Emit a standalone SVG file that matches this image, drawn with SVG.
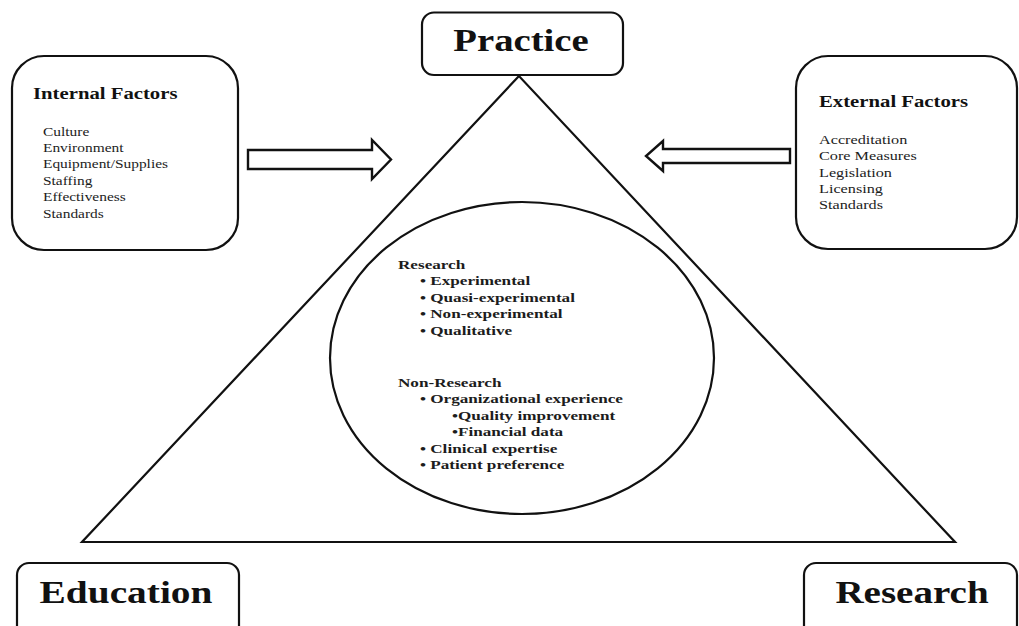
<svg xmlns="http://www.w3.org/2000/svg" width="1019" height="626" viewBox="0 0 1019 626">
<style>
  .box{fill:#fff;stroke:#111;stroke-width:2.2}
  .line{fill:none;stroke:#111;stroke-width:2.2}
  .arrow{fill:#fff;stroke:#111;stroke-width:2.4;stroke-linejoin:miter}
  text{font-family:"Liberation Serif","Times New Roman",serif;fill:#111}
  .big{font-size:31px;font-weight:bold;text-anchor:middle}
  .title{font-size:17px;font-weight:bold}
  .list{font-size:13.3px;fill:#1c1c1c}
  .circ{font-size:13.5px;font-weight:bold;fill:#1c1c1c}
</style>
<rect width="1019" height="626" fill="#fff"/>

<g id="connectors">
  <polygon class="line" points="519,76 82,542 955,542"/>
  <polygon class="arrow" points="248,150 372,150 372,140 391,159.5 372,179 372,169 248,169"/>
  <polygon class="arrow" points="790,149 663,149 663,141 646,156 663,171 663,163 790,163"/>
</g>

<g id="practice">
  <rect class="box" x="422" y="12.5" width="201" height="62.5" rx="12"/>
  <g transform="translate(521,51) scale(1.25,1)"><text class="big" x="0" y="0">Practice</text></g>
</g>

<g id="education">
  <rect class="box" x="17" y="563" width="222" height="80" rx="12"/>
  <g transform="translate(126,603) scale(1.27,1)"><text class="big" x="0" y="0">Education</text></g>
</g>

<g id="research">
  <rect class="box" x="804" y="563" width="213" height="80" rx="12"/>
  <g transform="translate(912,603) scale(1.26,1)"><text class="big" x="0" y="0">Research</text></g>
</g>

<g id="internal-factors">
  <rect class="box" x="12" y="56" width="226" height="194" rx="32"/>
  <g transform="translate(33,99) scale(1.22,1)"><text class="title" x="0" y="0">Internal Factors</text></g>
  <g transform="translate(43,135.5) scale(1.16,1)">
    <text class="list" x="0" y="0">Culture</text>
    <text class="list" x="0" y="16.5">Environment</text>
    <text class="list" x="0" y="33">Equipment/Supplies</text>
    <text class="list" x="0" y="49.5">Staffing</text>
    <text class="list" x="0" y="66">Effectiveness</text>
    <text class="list" x="0" y="82.5">Standards</text>
  </g>
</g>

<g id="external-factors">
  <rect class="box" x="796" y="56" width="221" height="193" rx="32"/>
  <g transform="translate(819,107) scale(1.22,1)"><text class="title" x="0" y="0">External Factors</text></g>
  <g transform="translate(819,144) scale(1.22,1)">
    <text class="list" x="0" y="0">Accreditation</text>
    <text class="list" x="0" y="16.3">Core Measures</text>
    <text class="list" x="0" y="32.6">Legislation</text>
    <text class="list" x="0" y="48.9">Licensing</text>
    <text class="list" x="0" y="65.2">Standards</text>
  </g>
</g>

<g id="evidence-circle">
  <ellipse class="line" cx="522" cy="358" rx="192" ry="156"/>
  <g transform="translate(398,269) scale(1.27,1)">
    <text class="circ" x="0" y="0">Research</text>
    <text class="circ" x="17.3" y="16.5">• Experimental</text>
    <text class="circ" x="17.3" y="33">• Quasi-experimental</text>
    <text class="circ" x="17.3" y="49.5">• Non-experimental</text>
    <text class="circ" x="17.3" y="66">• Qualitative</text>
    <text class="circ" x="0" y="118">Non-Research</text>
    <text class="circ" x="17.3" y="134.5">• Organizational  experience</text>
    <text class="circ" x="42.5" y="151">•Quality  improvement</text>
    <text class="circ" x="42.5" y="167.5">•Financial  data</text>
    <text class="circ" x="17.3" y="184">• Clinical  expertise</text>
    <text class="circ" x="17.3" y="200.5">• Patient  preference</text>
  </g>
</g>
</svg>
